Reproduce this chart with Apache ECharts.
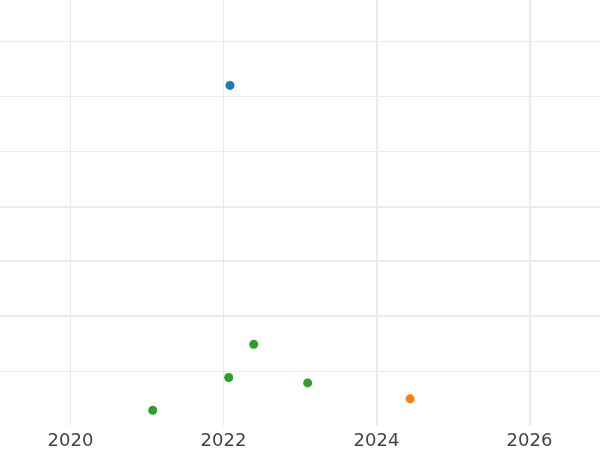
<!DOCTYPE html>
<html>
<head>
<meta charset="utf-8">
<script src="https://cdn.jsdelivr.net/npm/echarts@6/dist/echarts.min.js"></script>
<style>
  html, body { margin: 0; padding: 0; background: #ffffff; }
  #chart { width: 600px; height: 450px; }
</style>
</head>
<body>
<div id="chart"></div>
<script>
// Data (x = decimal year, y = value)
const blueSeries = [[2022.085, 6.20]];
const orangeSeries = [[2024.44, 0.495]];
const greenSeries = [[2021.075, 0.287], [2022.068, 0.882], [2022.395, 1.487], [2023.10, 0.785]];

// Axis ranges
const xRange = [2019.078, 2026.922];
const yRange = [0, 7.755];
// Grid lines drawn slightly heavier in the reference
const heavyYLines = [2, 3, 4];
const heavyXLines = [2024, 2026];

const gridColor = '#ebebeb';

const chart = echarts.init(document.getElementById('chart'), null, { renderer: 'canvas' });

const heavyLines = heavyYLines.map(v => ({ yAxis: v })).concat(heavyXLines.map(v => ({ xAxis: v })));

chart.setOption({
  animation: false,
  backgroundColor: '#ffffff',
  grid: { left: 0, right: 0, top: 0, bottom: 23, containLabel: false },
  xAxis: {
    type: 'value',
    min: xRange[0],
    max: xRange[1],
    minInterval: 2,
    maxInterval: 2,
    axisLine: { show: false },
    axisTick: { show: false },
    axisLabel: {
      show: true,
      showMinLabel: false,
      showMaxLabel: false,
      color: '#444444',
      fontFamily: 'DejaVu Sans',
      fontSize: 18,
      margin: 6,
      formatter: v => String(Math.round(v))
    },
    splitLine: {
      show: true,
      showMinLine: false,
      showMaxLine: false,
      lineStyle: { color: gridColor, width: 1 }
    }
  },
  yAxis: {
    type: 'value',
    min: yRange[0],
    max: yRange[1],
    interval: 1,
    axisLine: { show: false },
    axisTick: { show: false },
    axisLabel: { show: false },
    splitLine: {
      show: true,
      showMinLine: false,
      showMaxLine: false,
      lineStyle: { color: gridColor, width: 1 }
    }
  },
  series: [
    {
      name: 'blue',
      type: 'scatter',
      data: blueSeries,
      symbolSize: 9,
      itemStyle: { color: '#1f77b4', opacity: 1 },
      markLine: {
        silent: true,
        symbol: 'none',
        label: { show: false },
        lineStyle: { color: gridColor, width: 2, type: 'solid' },
        data: heavyLines,
        z: 0
      },
      z: 3
    },
    {
      name: 'orange',
      type: 'scatter',
      data: orangeSeries,
      symbolSize: 9,
      itemStyle: { color: '#ff7f0e', opacity: 1 },
      z: 3
    },
    {
      name: 'green',
      type: 'scatter',
      data: greenSeries,
      symbolSize: 9,
      itemStyle: { color: '#2ca02c', opacity: 1 },
      z: 3
    }
  ]
});
</script>
</body>
</html>
